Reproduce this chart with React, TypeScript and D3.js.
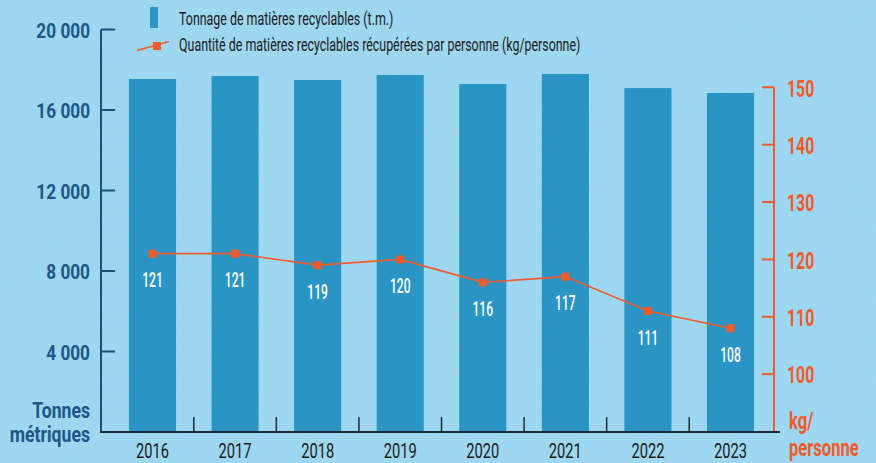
import React, { useEffect } from 'react';
import * as d3 from 'd3';

const years = ['2016', '2017', '2018', '2019', '2020', '2021', '2022', '2023'];
const tonnage = [17540, 17690, 17490, 17740, 17290, 17790, 17090, 16845];
const kgPerPerson = [121, 121, 119, 120, 116, 117, 111, 108];
const leftTicks = [4000, 8000, 12000, 16000, 20000];
const rightTicks = [100, 110, 120, 130, 140, 150];

const W = 876;
const H = 463;
const NAVY = '#1d5687';
const ORANGE = '#f15a2b';
const BAR = '#2a95c5';
const BG = '#9bd8f3';
const FONT = 'Roboto, "Liberation Sans", sans-serif';

// text squeezed horizontally around its anchor point (condensed look)
const Txt = ({ x, y, anchor = 'start', size, weight = 400, fill, sx = 0.8, children }: any) => (
  <g transform={`translate(${x},${y}) scale(${sx},1)`}>
    <text
      textAnchor={anchor}
      dominantBaseline="central"
      fontFamily={FONT}
      fontSize={size}
      fontWeight={weight}
      fill={fill}
    >
      {children}
    </text>
  </g>
);

const fmt = (v: number) => d3.format(',')(v).replace(/,/g, ' ');

export default function App() {
  useEffect(() => {
    document.body.style.margin = '0';
  }, []);

  const x = d3.scaleBand().domain(years).range([111.2, 771.8]).paddingInner(0.43).paddingOuter(0.215);
  const yL = d3.scaleLinear().domain([0, 20000]).range([432, 29.5]);
  const yR = d3.scaleLinear().domain([90, 150]).range([431.5, 87.3]);
  const cx = (d: string) => (x(d) as number) + x.bandwidth() / 2;

  const line = d3
    .line<number>()
    .x((_, i) => cx(years[i]))
    .y((d) => yR(d));

  const axisLeftX = 101;
  const axisRightX = 774;
  const base = yL(0);

  return (
    <svg width={W} height={H} style={{ display: 'block' }}>
      <defs>
        <filter id="grain" x="0" y="0" width="100%" height="100%">
          <feTurbulence type="fractalNoise" baseFrequency="0.6" numOctaves="2" seed="7" />
          <feColorMatrix type="matrix" values="0 0 0 0 0.5  0 0 0 0 0.58  0 0 0 0 0.64  0 0 0 12 -6.5" />
        </filter>
      </defs>
      <rect width={W} height={H} fill={BG} />
      <rect width={W} height={H} filter="url(#grain)" opacity={0.3} />

      {/* bars */}
      {years.map((d, i) => (
        <rect key={d} x={x(d)} y={yL(tonnage[i])} width={x.bandwidth()} height={base - yL(tonnage[i])} fill={BAR} />
      ))}

      {/* left axis */}
      <line x1={axisLeftX} x2={axisLeftX} y1={yL(20000)} y2={base} stroke="#1f4f78" strokeWidth={2} />
      {leftTicks.map((t) => (
        <g key={t}>
          <line x1={axisLeftX} x2={axisLeftX + 14} y1={yL(t)} y2={yL(t)} stroke="#1f4f78" strokeWidth={2} />
          <Txt x={90} y={yL(t) + 1} anchor="end" size={21} weight={700} fill={NAVY} sx={0.82}>
            {fmt(t)}
          </Txt>
        </g>
      ))}
      <Txt x={90} y={411} anchor="end" size={21.5} weight={700} fill={NAVY} sx={0.82}>Tonnes</Txt>
      <Txt x={90} y={435} anchor="end" size={21.5} weight={700} fill={NAVY} sx={0.82}>métriques</Txt>

      {/* right axis */}
      <line x1={axisRightX} x2={axisRightX} y1={yR(150)} y2={base} stroke={ORANGE} strokeWidth={2} />
      {rightTicks.map((t) => (
        <g key={t}>
          <line x1={axisRightX - 12} x2={axisRightX} y1={yR(t)} y2={yR(t)} stroke={ORANGE} strokeWidth={2} />
          <Txt x={787} y={yR(t) + 1} size={24} weight={700} fill={ORANGE} sx={0.66}>
            {t}
          </Txt>
        </g>
      ))}
      <Txt x={789} y={421} size={23} weight={700} fill={ORANGE} sx={0.72}>kg/</Txt>
      <Txt x={789} y={448} size={23} weight={700} fill={ORANGE} sx={0.72}>personne</Txt>

      {/* bottom axis */}
      <line x1={axisLeftX - 1} x2={780} y1={base} y2={base} stroke="#1d2b36" strokeWidth={2} />
      {years.slice(0, -1).map((d) => {
        const tx = (x(d) as number) + x.bandwidth() + (x.step() - x.bandwidth()) / 2;
        return <line key={d} x1={tx} x2={tx} y1={base - 15} y2={base} stroke="#1d2b36" strokeWidth={1.5} />;
      })}
      {years.map((d) => (
        <Txt key={d} x={cx(d)} y={450} anchor="middle" size={21} fill="#1a1a1a" sx={0.7}>
          {d}
        </Txt>
      ))}

      {/* line series */}
      <path d={line(kgPerPerson) as string} fill="none" stroke={ORANGE} strokeWidth={1.6} />
      {kgPerPerson.map((v, i) => (
        <g key={i}>
          <rect x={cx(years[i]) - 4} y={yR(v) - 4} width={8} height={8} fill={ORANGE} />
          <Txt x={cx(years[i])} y={yR(v) + 27} anchor="middle" size={19.5} weight={500} fill="#ffffff" sx={0.62}>
            {v}
          </Txt>
        </g>
      ))}

      {/* legend */}
      <rect x={150} y={7} width={8} height={21} fill={BAR} />
      <Txt x={179} y={19} size={17.5} fill="#1a1a1a" sx={0.71}>Tonnage de matières recyclables (t.m.)</Txt>
      <line x1={137} y1={50.5} x2={169} y2={41.5} stroke={ORANGE} strokeWidth={1.6} />
      <rect x={153} y={42} width={8} height={8} fill={ORANGE} />
      <Txt x={179} y={45} size={17.5} fill="#1a1a1a" sx={0.71}>
        Quantité de matières recyclables récupérées par personne (kg/personne)
      </Txt>
    </svg>
  );
}
